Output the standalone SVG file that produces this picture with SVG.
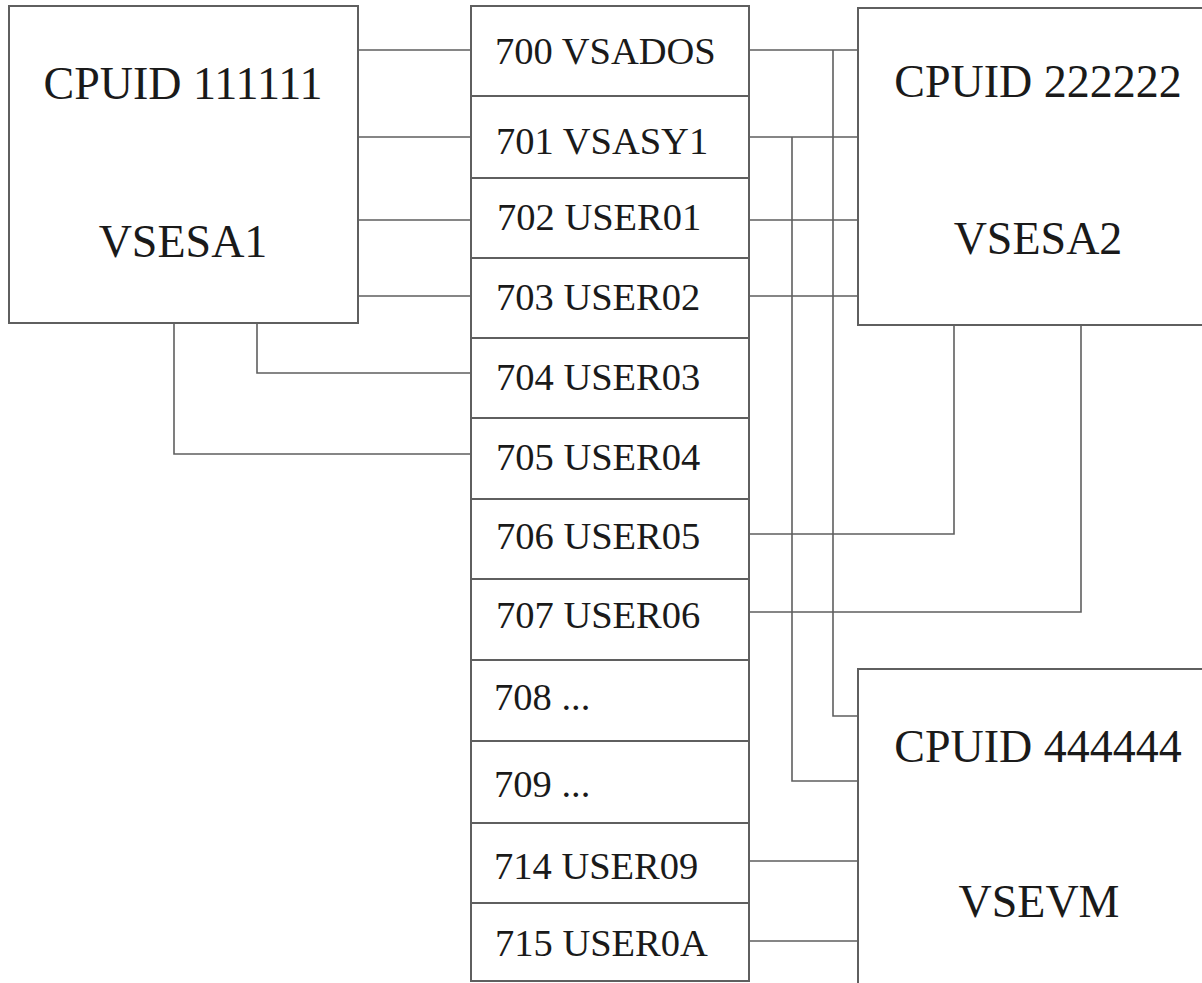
<svg xmlns="http://www.w3.org/2000/svg" width="1202" height="983" viewBox="0 0 1202 983">
<style>
.box{fill:#fff;stroke:#5f5f5f;stroke-width:2}
.cell{fill:#fff;stroke:#5f5f5f;stroke-width:2}
.big{font-family:"Liberation Serif","Times New Roman",serif;font-size:46px;fill:#1a1a1a;text-anchor:middle}
.lbl{font-family:"Liberation Serif","Times New Roman",serif;font-size:38.5px;fill:#1a1a1a}
.con{fill:none;stroke:#5f5f5f;stroke-width:1.6}
</style>
<rect width="1202" height="983" fill="#fff"/>
<g id="connectors">
<path class="con" d="M358,50H471M358,137H471M358,220H471M358,296H471"/>
<path class="con" d="M257,323V373H471"/>
<path class="con" d="M174,323V454H471"/>
<path class="con" d="M749,50H858M749,137H858M749,220H858M749,296H858"/>
<path class="con" d="M833,50V716H858"/>
<path class="con" d="M792,137V781H858"/>
<path class="con" d="M749,534H954V325"/>
<path class="con" d="M749,612H1081V325"/>
<path class="con" d="M749,861H858M749,941H858"/>
</g>
<g id="vsesa1">
<rect class="box" x="9" y="6" width="349" height="317"/>
<text class="big" x="183" y="99">CPUID 111111</text>
<text class="big" x="183" y="257">VSESA1</text>
</g>
<g id="vsesa2">
<rect class="box" x="858" y="8" width="400" height="317"/>
<text class="big" x="1038" y="97">CPUID 222222</text>
<text class="big" x="1038" y="254">VSESA2</text>
</g>
<g id="vsevm">
<rect class="box" x="858" y="669" width="400" height="400"/>
<text class="big" x="1038" y="762">CPUID 444444</text>
<text class="big" x="1039" y="917">VSEVM</text>
</g>
<g id="r700"><rect class="cell" x="471" y="6" width="278" height="90"/><text class="lbl" x="495" y="64">700 VSADOS</text></g>
<g id="r701"><rect class="cell" x="471" y="96" width="278" height="82"/><text class="lbl" x="496" y="154">701 VSASY1</text></g>
<g id="r702"><rect class="cell" x="471" y="178" width="278" height="80"/><text class="lbl" x="497" y="230">702 USER01</text></g>
<g id="r703"><rect class="cell" x="471" y="258" width="278" height="80"/><text class="lbl" x="496" y="310">703 USER02</text></g>
<g id="r704"><rect class="cell" x="471" y="338" width="278" height="80"/><text class="lbl" x="496" y="390">704 USER03</text></g>
<g id="r705"><rect class="cell" x="471" y="418" width="278" height="81"/><text class="lbl" x="496" y="470">705 USER04</text></g>
<g id="r706"><rect class="cell" x="471" y="499" width="278" height="80"/><text class="lbl" x="496" y="549">706 USER05</text></g>
<g id="r707"><rect class="cell" x="471" y="579" width="278" height="81"/><text class="lbl" x="496" y="628">707 USER06</text></g>
<g id="r708"><rect class="cell" x="471" y="660" width="278" height="81"/><text class="lbl" x="494" y="710">708 ...</text></g>
<g id="r709"><rect class="cell" x="471" y="741" width="278" height="82"/><text class="lbl" x="494" y="797">709 ...</text></g>
<g id="r714"><rect class="cell" x="471" y="823" width="278" height="80"/><text class="lbl" x="494" y="879">714 USER09</text></g>
<g id="r715"><rect class="cell" x="471" y="903" width="278" height="78"/><text class="lbl" x="495" y="956">715 USER0A</text></g>
</svg>
